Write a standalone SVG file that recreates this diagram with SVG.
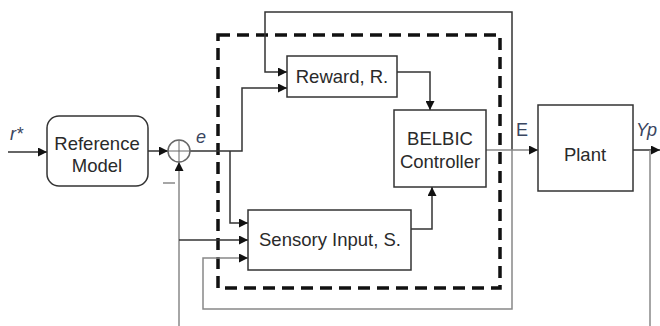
<svg xmlns="http://www.w3.org/2000/svg" width="660" height="326" viewBox="0 0 660 326">
<defs>
<marker id="arr" viewBox="0 0 10 10" refX="10" refY="5" markerWidth="9" markerHeight="9" markerUnits="userSpaceOnUse" orient="auto">
<path d="M0,0 L10,5 L0,10 z" fill="#111"/>
</marker>
</defs>
<style>
.box{fill:#fff;stroke:#333;stroke-width:1.5}
.lbl{font-family:"Liberation Sans",Arial,sans-serif;font-size:18.5px;fill:#2a2a2a;text-anchor:middle}
.sig{font-family:"Liberation Sans",Arial,sans-serif;font-size:18px;fill:#3a4660}
.ln{fill:none;stroke:#333;stroke-width:1.5}
.lt{fill:none;stroke:#888;stroke-width:1.5}
.dash{fill:none;stroke:#111;stroke-width:3.5;stroke-dasharray:12 7}
</style>
<rect width="660" height="326" fill="#fff"/>
<g id="boundary">
<rect class="dash" x="218" y="35" width="282" height="253"/>
</g>
<g id="connectors">
<line class="ln" x1="8" y1="152" x2="47" y2="152" marker-end="url(#arr)"/>
<line class="ln" x1="148" y1="151" x2="168" y2="151" marker-end="url(#arr)"/>
<polyline class="ln" points="190,151 242,151 242,88 287,88" marker-end="url(#arr)"/>
<polyline class="ln" points="230,151 230,223 248,223" marker-end="url(#arr)"/>
<line class="lt" x1="179" y1="326" x2="179" y2="162" marker-end="url(#arr)"/>
<polyline class="ln" points="179,240 248,240" marker-end="url(#arr)"/>
<line class="lt" x1="163" y1="183" x2="175" y2="183"/>
<polyline class="ln" points="512,150 512,12 265,12 265,72 287,72" marker-end="url(#arr)"/>
<polyline class="lt" points="512,150 512,309 203,309 203,258 248,258" marker-end="url(#arr)"/>
<polyline class="ln" points="397,72 430,72 430,110" marker-end="url(#arr)"/>
<polyline class="ln" points="411,229 432,229 432,187" marker-end="url(#arr)"/>
<line class="lt" x1="486" y1="150" x2="538" y2="150" marker-end="url(#arr)"/>
<line class="ln" x1="633" y1="150" x2="660" y2="150" marker-end="url(#arr)"/>
<line class="lt" x1="650" y1="150" x2="650" y2="326"/>
</g>
<g id="sum">
<circle cx="179" cy="151" r="11" fill="#fff" stroke="#666" stroke-width="1.5"/>
<line x1="168" y1="151" x2="190" y2="151" stroke="#666" stroke-width="1"/>
<line x1="179" y1="140" x2="179" y2="162" stroke="#666" stroke-width="1"/>
</g>
<g id="reference-model">
<rect class="box" x="47" y="116" width="101" height="70" rx="12"/>
<text class="lbl" x="97" y="150">Reference</text>
<text class="lbl" x="97" y="172">Model</text>
</g>
<g id="reward">
<rect class="box" x="287" y="56" width="110" height="41"/>
<text class="lbl" x="342" y="83">Reward, R.</text>
</g>
<g id="belbic">
<rect class="box" x="394" y="110" width="92" height="77"/>
<text class="lbl" x="440" y="145">BELBIC</text>
<text class="lbl" x="440" y="168">Controller</text>
</g>
<g id="sensory">
<rect class="box" x="248" y="210" width="163" height="60"/>
<text class="lbl" x="330" y="246">Sensory Input, S.</text>
</g>
<g id="plant">
<rect class="box" x="538" y="105" width="95" height="86"/>
<text class="lbl" x="585" y="161">Plant</text>
</g>
<g id="labels">
<text class="sig" x="10" y="140" font-style="italic">r*</text>
<text class="sig" x="196" y="143" font-style="italic">e</text>
<text class="sig" x="516" y="136">E</text>
<text class="sig" x="636" y="136" font-style="italic">Yp</text>
</g>
</svg>
